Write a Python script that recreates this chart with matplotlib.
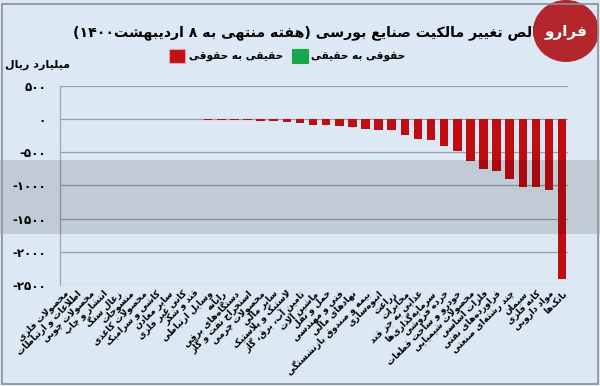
import matplotlib
matplotlib.use("Agg")
import matplotlib.pyplot as plt
from matplotlib.patches import Rectangle, Ellipse

# ---------------- data ----------------
categories = [
    "محصولات فلزی", "اطلاعات و ارتباطات", "محصولات چوبی", "انتشار و چاپ",
    "زغال سنگ", "منسوجات", "محصولات کاغذی", "کاشی و سرامیک", "سایر معادن",
    "کانی غیر فلزی", "قند و شکر", "وسایل ارتباطی", "رایانه", "دستگاه‌های برقی",
    "استخراج نفت و گاز", "محصولات چرمی", "سایر مالی", "لاستیک و پلاستیک",
    "تامین آب، برق، گاز", "ماشین آلات", "حمل و نقل", "فنی و مهندسی",
    "نهادهای مالی", "بیمه و صندوق بازنشستگی", "انبوه‌سازی", "زراعت", "مخابرات",
    "غذایی به جز قند", "سرمایه‌گذاری‌ها", "خرده فروشی", "خودرو و ساخت قطعات",
    "محصولات شیمیایی", "فلزات اساسی", "فراورده‌های نفتی", "چند رشته‌ای صنعتی",
    "سیمان", "کانه فلزی", "مواد دارویی", "بانک‌ها",
]
values = [
    -1, -1, -1, -1, -1, -2, -2, -2, -2, -3, -3, -5, -8, -12, -15, -20, -25,
    -35, -50, -80, -90, -100, -120, -150, -160, -170, -235, -295, -320, -400,
    -485, -635, -745, -785, -895, -1020, -1025, -1070, -2410,
]
yticks = [500, 0, -500, -1000, -1500, -2000, -2500]
ytick_labels = ["۵۰۰", "۰", "-۵۰۰", "-۱۰۰۰", "-۱۵۰۰", "-۲۰۰۰", "-۲۵۰۰"]
title = "خالص تغییر مالکیت صنایع بورسی (هفته منتهی به ۸ اردیبهشت۱۴۰۰)"
unit_label = "میلیارد ریال"
legend_labels = ["حقوقی به حقیقی", "حقیقی به حقوقی"]
legend_colors = ["#17a84b", "#c0101a"]
logo_text = "فرارو"

# ------------- minimal Persian shaping + bidi -------------
F = {
    'ا': ('\uFE8D', '\uFE8E', None, None), 'آ': ('\uFE81', '\uFE82', None, None),
    'ب': ('\uFE8F', '\uFE90', '\uFE91', '\uFE92'), 'ت': ('\uFE95', '\uFE96', '\uFE97', '\uFE98'),
    'ث': ('\uFE99', '\uFE9A', '\uFE9B', '\uFE9C'), 'ج': ('\uFE9D', '\uFE9E', '\uFE9F', '\uFEA0'),
    'ح': ('\uFEA1', '\uFEA2', '\uFEA3', '\uFEA4'), 'خ': ('\uFEA5', '\uFEA6', '\uFEA7', '\uFEA8'),
    'د': ('\uFEA9', '\uFEAA', None, None), 'ذ': ('\uFEAB', '\uFEAC', None, None),
    'ر': ('\uFEAD', '\uFEAE', None, None), 'ز': ('\uFEAF', '\uFEB0', None, None),
    'ژ': ('\uFB8A', '\uFB8B', None, None),
    'س': ('\uFEB1', '\uFEB2', '\uFEB3', '\uFEB4'), 'ش': ('\uFEB5', '\uFEB6', '\uFEB7', '\uFEB8'),
    'ص': ('\uFEB9', '\uFEBA', '\uFEBB', '\uFEBC'), 'ض': ('\uFEBD', '\uFEBE', '\uFEBF', '\uFEC0'),
    'ط': ('\uFEC1', '\uFEC2', '\uFEC3', '\uFEC4'), 'ظ': ('\uFEC5', '\uFEC6', '\uFEC7', '\uFEC8'),
    'ع': ('\uFEC9', '\uFECA', '\uFECB', '\uFECC'), 'غ': ('\uFECD', '\uFECE', '\uFECF', '\uFED0'),
    'ف': ('\uFED1', '\uFED2', '\uFED3', '\uFED4'), 'ق': ('\uFED5', '\uFED6', '\uFED7', '\uFED8'),
    'ک': ('\uFB8E', '\uFB8F', '\uFB90', '\uFB91'), 'گ': ('\uFB92', '\uFB93', '\uFB94', '\uFB95'),
    'ل': ('\uFEDD', '\uFEDE', '\uFEDF', '\uFEE0'), 'م': ('\uFEE1', '\uFEE2', '\uFEE3', '\uFEE4'),
    'ن': ('\uFEE5', '\uFEE6', '\uFEE7', '\uFEE8'), 'و': ('\uFEED', '\uFEEE', None, None),
    'ه': ('\uFEE9', '\uFEEA', '\uFEEB', '\uFEEC'), 'ی': ('\uFBFC', '\uFBFD', '\uFBFE', '\uFBFF'),
    'پ': ('\uFB56', '\uFB57', '\uFB58', '\uFB59'), 'چ': ('\uFB7A', '\uFB7B', '\uFB7C', '\uFB7D'),
}
DIGITS = set("0123456789۰۱۲۳۴۵۶۷۸۹")
MIRROR = {'(': ')', ')': '('}


def shape(s):
    out = []
    i = 0
    n = len(s)
    while i < n:
        c = s[i]
        if c == '\u200c':
            i += 1
            continue
        if c not in F:
            out.append(c)
            i += 1
            continue
        p = s[i - 1] if i > 0 else ''
        cp = p in F and F[p][2] is not None
        nx = s[i + 1] if i + 1 < n else ''
        if c == 'ل' and nx in ('ا', 'آ'):
            if nx == 'ا':
                out.append('\uFEFC' if cp else '\uFEFB')
            else:
                out.append('\uFEF6' if cp else '\uFEF5')
            i += 2
            continue
        cn = F[c][2] is not None and nx in F
        iso, fin, ini, med = F[c]
        if cp and cn:
            out.append(med)
        elif cp:
            out.append(fin)
        elif cn:
            out.append(ini)
        else:
            out.append(iso)
        i += 1
    tokens = []
    for ch in out:
        if ch in DIGITS and tokens and tokens[-1][0] in DIGITS:
            tokens[-1] += ch
        else:
            tokens.append(ch)
    tokens = [MIRROR.get(t, t) for t in tokens][::-1]
    return ''.join(tokens)


def fa(s):
    return '\n'.join(shape(line) for line in s.split('\n'))


# ---------------- figure ----------------
BG = "#dce8f3"
W, H = 600.0, 386.0
fig = plt.figure(figsize=(6.0, 3.86), dpi=100, facecolor=BG)
ax = fig.add_axes([0.1, 0.262, 0.847, 0.515])
ax.set_facecolor(BG)

x = list(range(len(categories)))
ax.bar(x, values, width=0.66, color="#c00d12", zorder=3)

ax.set_ylim(-2500, 500)
ax.set_xlim(-0.3, len(categories) - 1 + 0.46)
ax.set_yticks(yticks)
ax.set_yticklabels(ytick_labels, fontsize=8.5, fontweight="bold", family="DejaVu Sans")
ax.tick_params(axis="y", length=0, pad=10)
ax.yaxis.grid(True, color="#9a9fa5", linewidth=0.9, zorder=1)
ax.set_axisbelow(True)
ax.set_xticks(x)
ax.set_xticklabels([fa(c) for c in categories], rotation=45, ha="right", va="top",
                   rotation_mode="anchor", fontsize=6.4, fontweight="bold",
                   family="DejaVu Sans")
ax.tick_params(axis="x", length=0, pad=3)
for side in ("top", "right", "bottom"):
    ax.spines[side].set_visible(False)
ax.spines["left"].set_color("#a0a5aa")
ax.spines["left"].set_linewidth(0.9)

# title, unit
fig.text(548 / W, 1 - 33 / H, fa(title), ha="right", va="center", fontsize=10.2,
         fontweight="bold", family="DejaVu Sans")
fig.text(5 / W, 1 - 65 / H, fa(unit_label), ha="left", va="center", fontsize=8,
         fontweight="bold", family="DejaVu Sans")

# legend (manual, right-to-left)
leg_items = [(292, 311, legend_labels[0], legend_colors[0]),
             (169, 189, legend_labels[1], legend_colors[1])]
for bx, tx, lab, col in leg_items:
    fig.patches.append(Rectangle((bx / W, 1 - 63 / H), 16 / W, 14 / H,
                                 transform=fig.transFigure, facecolor=col,
                                 edgecolor="#e8a0a0" if col == legend_colors[1] else col,
                                 linewidth=0.8))
    fig.text(tx / W, 1 - 57 / H, fa(lab), ha="left", va="center", fontsize=7.6,
             fontweight="bold", family="DejaVu Sans")

# watermark band (translucent)
fig.patches.append(Rectangle((0, 1 - 234 / H), 1, 74 / H, transform=fig.transFigure,
                             facecolor="#000000", alpha=0.12, edgecolor="none", zorder=10))

# logo (top right)
fig.patches.append(Ellipse((566 / W, 1 - 31 / H), 66 / W, 62 / H, transform=fig.transFigure,
                           facecolor="#b3262b", edgecolor="none", zorder=11))
fig.text(566 / W, 1 - 33 / H, fa(logo_text), ha="center", va="center", fontsize=11,
         fontweight="bold", color="white", family="DejaVu Sans", zorder=12)

# outer frame
fig.patches.append(Rectangle((2 / W, 2 / H), 1 - 4 / W, 1 - 6 / H, transform=fig.transFigure,
                             facecolor="none", edgecolor="#8a8f94", linewidth=1.2, zorder=12))

fig.savefig("out.png", dpi=100, facecolor=BG)
